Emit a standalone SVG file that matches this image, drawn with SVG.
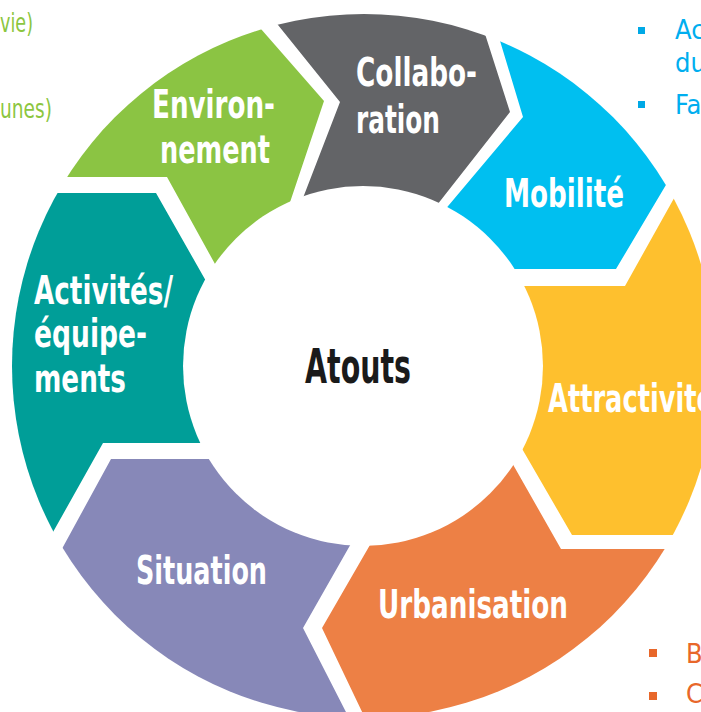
<svg xmlns="http://www.w3.org/2000/svg" width="701" height="712" viewBox="0 0 701 712">
<defs>
<clipPath id="ring"><circle cx="364" cy="366" r="352"/></clipPath>
<style>
.seg{clip-path:url(#ring);}
.lbl{font-family:'Liberation Sans Narrow','DejaVu Sans Condensed','Liberation Sans',sans-serif;font-weight:bold;font-size:39px;fill:#ffffff;}
.side{font-family:'Liberation Sans Narrow','DejaVu Sans Condensed','Liberation Sans',sans-serif;font-size:27px;}
</style>
</defs>
<rect width="701" height="712" fill="#ffffff"/>
<g id="side-notes">
<text class="side" x="0" y="32" fill="#8CC63F" textLength="33" lengthAdjust="spacingAndGlyphs">vie)</text>
<text class="side" x="0" y="118" fill="#8CC63F" textLength="52" lengthAdjust="spacingAndGlyphs">unes)</text>
<rect x="638" y="27" width="7" height="7" fill="#00A9E6"/>
<rect x="638" y="101" width="7" height="7" fill="#00A9E6"/>
<text class="side" x="675" y="39" fill="#00AEEF">Ac</text>
<text class="side" x="675" y="72" fill="#00AEEF">du</text>
<text class="side" x="675" y="114" fill="#00AEEF">Fac</text>
<rect x="649" y="649" width="8" height="8" fill="#E8672A"/>
<rect x="649" y="692" width="8" height="8" fill="#E8672A"/>
<text class="side" x="686" y="663" fill="#E8672A">Bo</text>
<text class="side" x="686" y="703" fill="#E8672A">C</text>
</g>
<g id="environnement">
<path class="seg" fill="#8BC443" d="M9,177 L167,177 L231,293 L276,244 L324,101 L226,-11 L3,-113 Z"/>
</g>
<g id="collaboration">
<path class="seg" fill="#636467" d="M241,-21 L340,102 L291,229 L419,228 L510,112 L470,-13 L385,-234 Z"/>
</g>
<g id="mobilite">
<path class="seg" fill="#00BFF0" d="M485,-9 L523,117 L422,237 L478,269 L616,269 L698,131 L758,-87 Z"/>
</g>
<g id="attractivite">
<path class="seg" fill="#FEC02E" d="M702,148 L625,286 L487,286 L503,416 L572,535 L726,535 L964,366 Z"/>
</g>
<g id="urbanisation">
<path class="seg" fill="#ED8045" d="M724,549 L561,549 L494,431 L389,512 L322,628 L386,762 L664,886 Z"/>
</g>
<g id="situation">
<path class="seg" fill="#8788B8" d="M370,759 L303,628 L369,512 L249,459 L111,459 L34,600 L-22,826 Z"/>
</g>
<g id="activites">
<path class="seg" fill="#009E98" d="M25,582 L103,443 L239,443 L223,311 L156,193 L-2,193 L-236,366 Z"/>
</g>
<g id="atouts">
<circle cx="363" cy="366" r="180" fill="#ffffff"/>
<text x="305" y="383" font-family="'Liberation Sans Narrow','DejaVu Sans Condensed','Liberation Sans',sans-serif" font-weight="bold" font-size="48" fill="#1A1A1A" textLength="106" lengthAdjust="spacingAndGlyphs">Atouts</text>
</g>
<g id="labels">
<text class="lbl" x="152" y="118" textLength="123" lengthAdjust="spacingAndGlyphs">Environ-</text>
<text class="lbl" x="160" y="163" textLength="110" lengthAdjust="spacingAndGlyphs">nement</text>
<text class="lbl" x="356" y="86" textLength="121" lengthAdjust="spacingAndGlyphs">Collabo-</text>
<text class="lbl" x="356" y="133" textLength="84" lengthAdjust="spacingAndGlyphs">ration</text>
<text class="lbl" x="504" y="207" textLength="120" lengthAdjust="spacingAndGlyphs">Mobilité</text>
<text class="lbl" x="548" y="412" textLength="166" lengthAdjust="spacingAndGlyphs">Attractivité</text>
<text class="lbl" x="378" y="618" textLength="190" lengthAdjust="spacingAndGlyphs">Urbanisation</text>
<text class="lbl" x="136" y="584" textLength="131" lengthAdjust="spacingAndGlyphs">Situation</text>
<text class="lbl" x="34" y="304" textLength="139" lengthAdjust="spacingAndGlyphs">Activités/</text>
<text class="lbl" x="34" y="347" textLength="113" lengthAdjust="spacingAndGlyphs">équipe-</text>
<text class="lbl" x="34" y="392" textLength="92" lengthAdjust="spacingAndGlyphs">ments</text>
</g>
<g id="connectors"/>
</svg>
